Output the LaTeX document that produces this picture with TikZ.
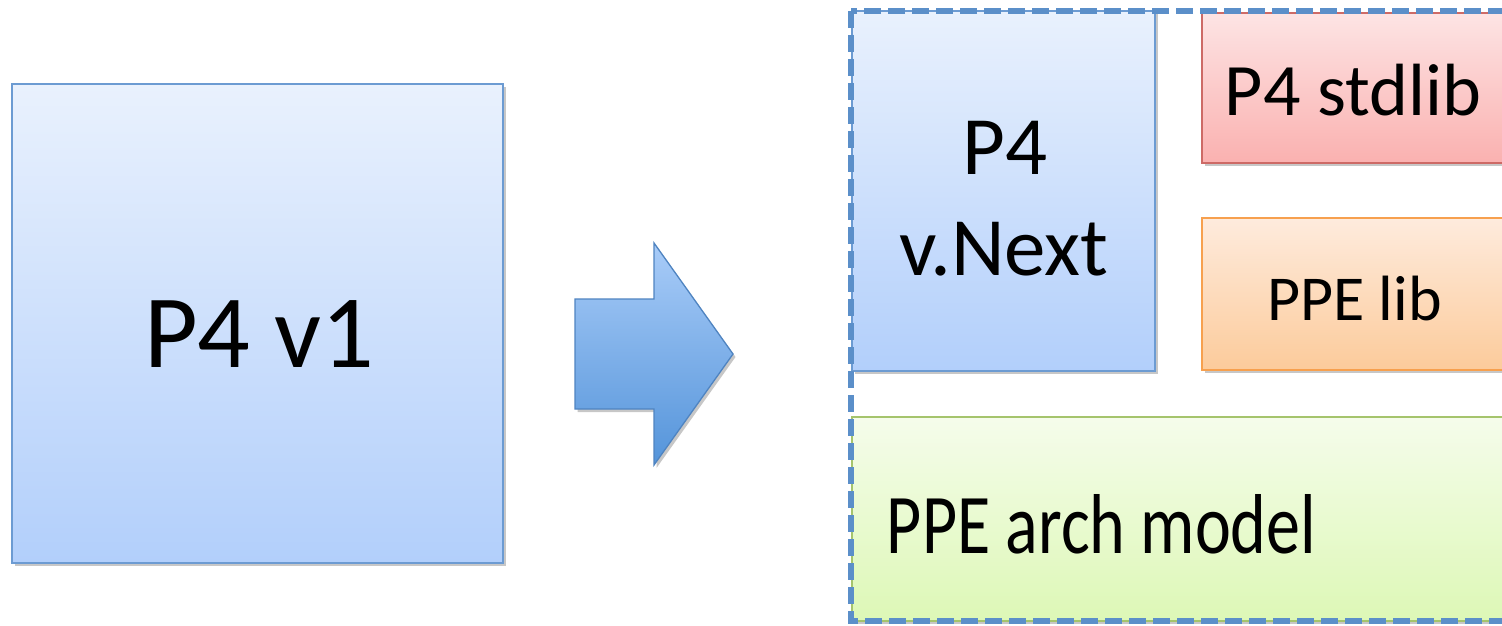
\documentclass[tikz,border=0pt]{standalone}
\usepackage{fontspec}
\setmainfont{Carlito}
\usetikzlibrary{shadows}
\definecolor{bluetop}{HTML}{E9F1FD}
\definecolor{bluebot}{HTML}{B2CFFB}
\definecolor{blueline}{HTML}{6C9BD2}
\definecolor{arrtop}{HTML}{A9CCF8}
\definecolor{arrbot}{HTML}{5494DA}
\definecolor{arrline}{HTML}{4F84C1}
\definecolor{redtop}{HTML}{FDE4E4}
\definecolor{redbot}{HTML}{FAB1B0}
\definecolor{redline}{HTML}{CD6A66}
\definecolor{orgtop}{HTML}{FEEBDD}
\definecolor{orgbot}{HTML}{FCCB9B}
\definecolor{orgline}{HTML}{F7A04E}
\definecolor{grntop}{HTML}{F5FCEB}
\definecolor{grnbot}{HTML}{DDF8B6}
\definecolor{grnline}{HTML}{A5C46C}
\definecolor{frameblue}{HTML}{5B8FC9}
\tikzset{
  shbox/.style={rectangle, inner sep=0pt, line width=1.3pt,
    drop shadow={shadow xshift=2.5pt, shadow yshift=-3pt, opacity=0.22, fill=black}},
  bluebox/.style={shbox, draw=blueline, top color=bluetop, bottom color=bluebot},
  redbox/.style={shbox, draw=redline, top color=redtop, bottom color=redbot},
  orgbox/.style={shbox, draw=orgline, top color=orgtop, bottom color=orgbot},
  grnbox/.style={shbox, draw=grnline, top color=grntop, bottom color=grnbot},
  lbl/.style={inner sep=0pt, anchor=base, text=black},
  frame/.style={draw=frameblue, line width=5.5pt, dash pattern=on 17pt off 7pt},
  bigarrow/.style={draw=arrline, line width=1.3pt, top color=arrtop, bottom color=arrbot, line join=miter,
    drop shadow={shadow xshift=2.5pt, shadow yshift=-3pt, opacity=0.22, fill=black}}
}
\begin{document}
\begin{tikzpicture}[x=1pt,y=-1pt]
\clip (0,0) rectangle (1502,626);
\fill[white] (0,0) rectangle (1502,626);

% left box
\node[bluebox, minimum width=491pt, minimum height=479pt] (v1box) at (257.5,323.5) {};
\node[lbl, font=\fontsize{104}{104}\selectfont] (v1txt) at (259,367) {P4 v1};

% arrow
\path[bigarrow] (575,299) -- (654,299) -- (654,243) -- (733,354) -- (654,465) -- (654,409) -- (575,409) -- cycle;

% right group
\node[grnbox, minimum width=668pt, minimum height=204pt] (archbox) at (1186,519) {};
\node[lbl, font=\fontsize{85}{85}\selectfont, xscale=0.8] (archtxt) at (1101.5,553) {PPE arch model};

\node[orgbox, minimum width=318pt, minimum height=152pt] (libbox) at (1361,294) {};
\node[lbl, font=\fontsize{64}{64}\selectfont] (libtxt) at (1354.5,320) {PPE lib};

\node[redbox, minimum width=318pt, minimum height=150pt] (stdbox) at (1361,88) {};
\node[lbl, font=\fontsize{74}{74}\selectfont] (stdtxt) at (1353,115) {P4 stdlib};

\node[bluebox, minimum width=303pt, minimum height=360pt] (nextbox) at (1003.5,191) {};
\node[lbl, font=\fontsize{83}{83}\selectfont] (nexttxt1) at (1005,174) {P4};
\node[lbl, font=\fontsize{83}{83}\selectfont] (nexttxt2) at (1004,275) {v.Next};

% dashed frame
\draw[frame] (851,11) rectangle (1540,621);
\end{tikzpicture}
\end{document}
